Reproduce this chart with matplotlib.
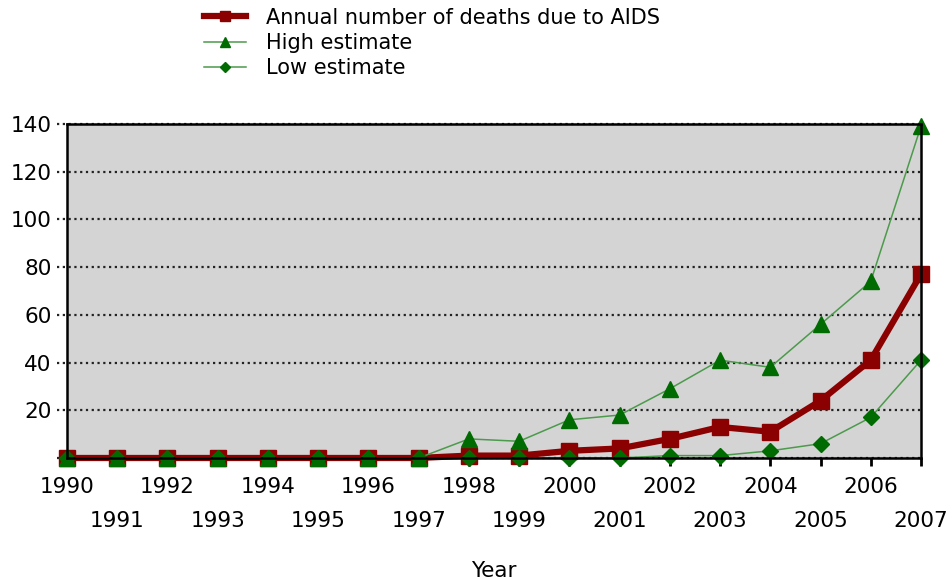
import matplotlib
matplotlib.use('Agg')
import matplotlib.pyplot as plt
import numpy as np

years = list(range(1990, 2008))
deaths = [0, 0, 0, 0, 0, 0, 0, 0, 1, 1, 3, 4, 8, 13, 11, 24, 41, 77]
high_est = [0, 0, 0, 0, 0, 0, 0, 0, 8, 7, 16, 18, 29, 41, 38, 56, 74, 139]
low_est = [0, 0, 0, 0, 0, 0, 0, 0, 0, 0, 0, 0, 1, 1, 3, 6, 17, 41]
yticks = [20, 40, 60, 80, 100, 120, 140]

plt.rcParams['font.family'] = 'DejaVu Sans'
plt.rcParams['font.size'] = 15.5

fig = plt.figure(figsize=(9.52, 5.79), dpi=100)
ax = fig.add_axes([0.0704, 0.209, 0.8970, 0.577])
ax.set_facecolor('#d4d4d4')

red = '#8b0000'
green = '#006b00'
gline = '#4c9a4c'

ax.plot(years, deaths, color=red, lw=4.5, marker='s', ms=12,
        mfc=red, mec=red, clip_on=False, zorder=3,
        label='Annual number of deaths due to AIDS')
ax.plot(years, high_est, color=gline, lw=1.1, marker='^', ms=12,
        mfc=green, mec=green, clip_on=False, zorder=4, label='High estimate')
ax.plot(years, low_est, color=gline, lw=1.1, marker='D', ms=8.5,
        mfc=green, mec=green, clip_on=False, zorder=4, label='Low estimate')

ax.set_xlim(1990, 2007)
ax.set_ylim(0, 140)

# dotted grid, running a little past the left spine like tick marks
for v in [0] + yticks:
    ax.plot([-0.012, 1], [v, v], transform=ax.get_yaxis_transform(),
            color='#222222', lw=1.6, ls=(0, (1, 1.6)), clip_on=False, zorder=1)

ax.set_yticks(yticks)
ax.tick_params(axis='y', length=0, pad=11)

# even years on the first row, odd years dropped to a second row
ax.set_xticks([y for y in years if y % 2 == 0])
ax.set_xticks([y for y in years if y % 2 == 1], minor=True)
ax.set_xticklabels([str(y) for y in years if y % 2 == 0])
ax.set_xticklabels([str(y) for y in years if y % 2 == 1], minor=True)
ax.tick_params(axis='x', which='both', direction='out', length=6, width=2,
               color='black', zorder=5)
ax.tick_params(axis='x', which='major', pad=8)
ax.tick_params(axis='x', which='minor', pad=32)

for s in ax.spines.values():
    s.set_linewidth(1.8)
    s.set_color('black')
    s.set_zorder(5)

fig.text(0.519, 0.004, 'Year', ha='center', va='baseline', fontsize=15.5)

fig.legend(loc='upper left', bbox_to_anchor=(0.1945, 1.019), frameon=False,
           handlelength=2.0, handletextpad=1.0, labelspacing=0.25,
           markerscale=0.55, fontsize=15)

fig.savefig('out.png', dpi=100)
